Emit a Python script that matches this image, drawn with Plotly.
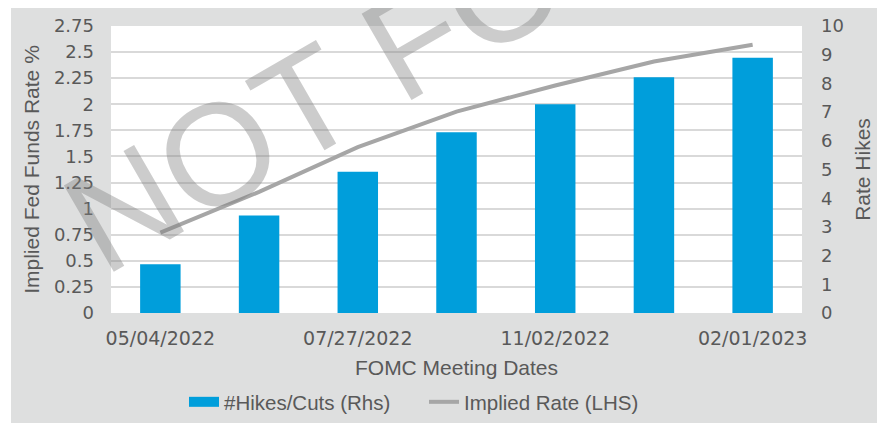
import plotly.graph_objects as go
from plotly.subplots import make_subplots

# FOMC meeting dates (x categories)
meeting_dates = ["05/04/2022", "06/15/2022", "07/27/2022", "09/21/2022",
                 "11/02/2022", "12/14/2022", "02/01/2023"]
shown_dates = ["05/04/2022", "07/27/2022", "11/02/2022", "02/01/2023"]

# number of hikes/cuts priced in (right axis)
hikes_cuts = [1.70, 3.40, 4.92, 6.30, 7.27, 8.21, 8.89]
# implied fed funds rate % (left axis)
implied_rate = [0.77, 1.16, 1.59, 1.93, 2.18, 2.41, 2.57]

left_ticks = [0, 0.25, 0.5, 0.75, 1, 1.25, 1.5, 1.75, 2, 2.25, 2.5, 2.75]
left_tick_labels = ["0", "0.25", "0.5", "0.75", "1", "1.25", "1.5", "1.75",
                    "2", "2.25", "2.5", "2.75"]
right_ticks = [0, 1, 2, 3, 4, 5, 6, 7, 8, 9, 10]

BLUE = "#009edb"
LINE_GREY = "#a6a6a6"
TEXT = "#595959"
BG = "#dedfdf"

W, H = 885, 423
OFF = 8  # page body margin shifts the figure by this much on screen

# target plot area in screen pixels
PX0, PX1, PY0, PY1 = 111, 802, 26, 313
L = PX0 - OFF
R = W - (PX1 - OFF)
T = PY0 - OFF
B = H - (PY1 - OFF)


# screen pixel -> paper helpers for decorations
def px_x(p):
    return (p - PX0) / (PX1 - PX0)


def px_y(p):
    return (PY1 - p) / (PY1 - PY0)


fig = make_subplots(specs=[[{"secondary_y": True}]])

fig.add_trace(go.Bar(x=meeting_dates, y=hikes_cuts, name="#Hikes/Cuts (Rhs)",
                     marker=dict(color=BLUE, line=dict(width=0)),
                     width=0.41, showlegend=False),
              secondary_y=True)

# legend stand-in for the bars (wide flat swatch like the original)
fig.add_trace(go.Scatter(x=[None], y=[None], mode="lines", name="#Hikes/Cuts (Rhs)",
                         line=dict(color=BLUE, width=10)),
              secondary_y=True)

fig.add_trace(go.Scatter(x=meeting_dates, y=implied_rate, mode="lines",
                         name="Implied Rate (LHS)",
                         line=dict(color=LINE_GREY, width=4)),
              secondary_y=False)

fig.update_xaxes(type="category", categoryorder="array", categoryarray=meeting_dates,
                 range=[-0.5, 6.5], domain=[0, 1], tickvals=shown_dates, ticks="",
                 showline=False, showgrid=False, ticklabelstandoff=12, automargin=False,
                 tickfont=dict(family="DejaVu Sans", size=19, color=TEXT),
                 title=dict(text="FOMC Meeting Dates", standoff=12,
                            font=dict(family="Liberation Sans", size=21, color=TEXT)))

fig.update_yaxes(range=[0, 2.75], tickvals=left_ticks, ticktext=left_tick_labels,
                 showgrid=True, gridcolor="#d9d9d9", gridwidth=2, zeroline=False,
                 showline=False, ticks="", ticklabelstandoff=16, automargin=False,
                 tickfont=dict(family="DejaVu Sans", size=18, color=TEXT),
                 title=dict(text="Implied Fed Funds Rate %", standoff=8,
                            font=dict(family="Liberation Sans", size=21, color=TEXT)),
                 secondary_y=False)

fig.update_yaxes(range=[0, 10], tickvals=right_ticks, showgrid=False, zeroline=False,
                 showline=False, ticks="", ticklabelstandoff=18, automargin=False,
                 tickfont=dict(family="DejaVu Sans", size=18, color=TEXT),
                 title=dict(text="Rate Hikes", standoff=12,
                            font=dict(family="Liberation Sans", size=21, color=TEXT)),
                 secondary_y=True)

# thin white strip left of the grey chart area
fig.add_shape(type="rect", xref="paper", yref="paper", layer="below",
              x0=px_x(0), x1=px_x(11), y0=px_y(H + 10), y1=px_y(0),
              fillcolor="white", line=dict(width=0))

# watermark
fig.add_annotation(text="NOT FOR", xref="paper", yref="paper",
                   x=px_x(360), y=px_y(72), xanchor="center", yanchor="middle",
                   textangle=-30, showarrow=False,
                   font=dict(family="Liberation Sans", size=145,
                             color="rgba(128,128,128,0.4)"))

fig.update_layout(
    width=W, height=H,
    margin=dict(l=L, r=R, t=T, b=B, autoexpand=False),
    paper_bgcolor=BG, plot_bgcolor="white",
    showlegend=True,
    legend=dict(orientation="h", x=px_x(184), xanchor="left", y=px_y(402),
                yanchor="middle", bgcolor="rgba(0,0,0,0)", entrywidth=195,
                font=dict(family="Liberation Sans", size=20.5, color=TEXT)),
)

fig.write_html("out.html")
